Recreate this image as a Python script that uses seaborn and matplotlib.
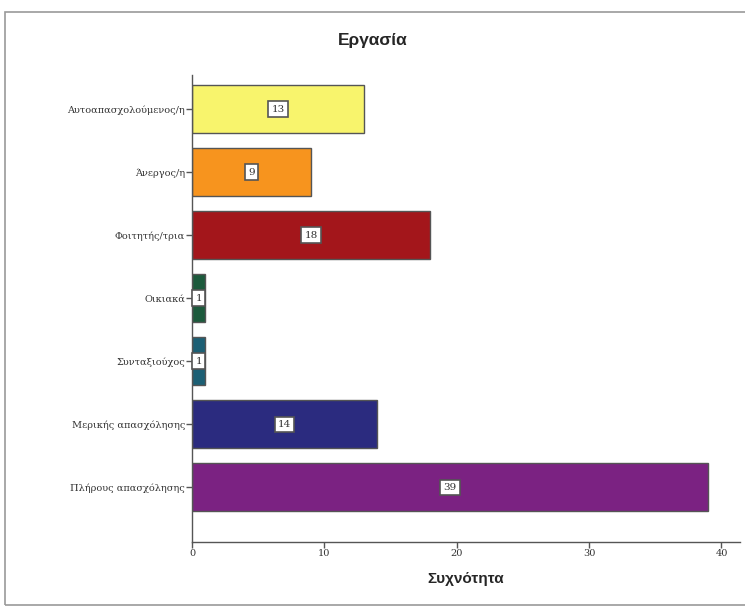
import numpy as np
import pandas as pd
import seaborn as sns
import matplotlib.pyplot as plt
from matplotlib.patches import Rectangle

categories = ["Αυτοαπασχολούμενος/η", "Άνεργος/η", "Φοιτητής/τρια", "Οικιακά",
              "Συνταξιούχος", "Μερικής απασχόλησης", "Πλήρους απασχόλησης"]
counts = [13, 9, 18, 1, 1, 14, 39]
colors = ["#f8f46c", "#f7941e", "#a3161b", "#1c5a3c", "#1c5f74", "#2b2b7f", "#7b2282"]

df = pd.DataFrame({"job": categories, "count": counts})

sns.set_style("white")
fig = plt.figure(figsize=(7.45, 6.07), dpi=100)
fig.patch.set_facecolor("white")
# grey frame round the chart
fig.patches.append(Rectangle((5 / 745, 0.003), 0.995, 1 - 12 / 607 - 0.003, transform=fig.transFigure,
                             fill=False, edgecolor="#9a9a9a", linewidth=1.2))

ax = fig.add_axes([192 / 745, 1 - 542 / 607, (740 - 192) / 745, (542 - 75) / 607])
sns.barplot(data=df, y="job", x="count", hue="job", palette=colors, legend=False, saturation=1,
            orient="h", width=0.76, edgecolor="#555555", linewidth=1, ax=ax)

for i, v in enumerate(counts):
    ax.text(v / 2, i, str(v), ha="center", va="center", fontsize=7.5, family="DejaVu Serif",
            color="#333333",
            bbox=dict(boxstyle="square,pad=0.3", facecolor="white", edgecolor="#555555", linewidth=1.2))

ax.set_xlim(0, 41.4)
ax.set_ylim(6.87, -0.54)
ax.set_xticks([0, 10, 20, 30, 40])
ax.tick_params(axis="both", length=4, width=1, color="#555555", labelsize=7, labelcolor="#333333", pad=1,
               bottom=True, left=True)
for lab in ax.get_xticklabels() + ax.get_yticklabels():
    lab.set_family("DejaVu Serif")
ax.set_ylabel("")
ax.set_xlabel("Συχνότητα", fontsize=11, fontweight="bold", labelpad=10, family="Liberation Sans")
sns.despine(ax=ax, top=True, right=True)
for s in ["left", "bottom"]:
    ax.spines[s].set_color("#555555")
    ax.spines[s].set_linewidth(1)
fig.text(0.5, 1 - 40 / 607, "Εργασία", ha="center", va="center", fontsize=12.5, fontweight="bold",
         family="Liberation Sans")

fig.savefig("out.png", dpi=100)
